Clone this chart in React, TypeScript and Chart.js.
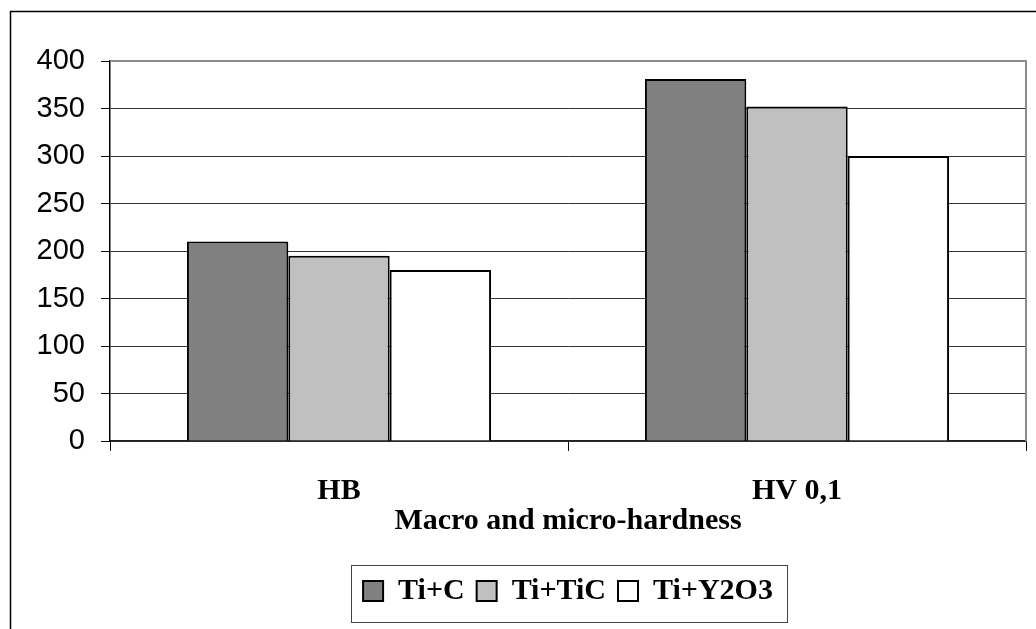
import React, { useEffect, useRef } from "react";
import { Chart, registerables } from "chart.js";

Chart.register(...registerables);

// Hardness values per test (HB macro-hardness, HV 0,1 micro-hardness)
const categories = ["HB", "HV 0,1"];
const seriesNames = ["Ti+C", "Ti+TiC", "Ti+Y2O3"];
const tiC = [210, 381];
const tiTiC = [195, 352];
const tiY2O3 = [180, 300];
const seriesColors = ["#808080", "#c0c0c0", "#ffffff"];
const yMin = 0;
const yMax = 400;
const yStep = 50;
const xTitle = "Macro and micro-hardness";

const SERIF = "'Liberation Serif', 'Times New Roman', serif";
const SANS = "'Liberation Sans', Arial, sans-serif";

// Outer frame of the chart, the grey plot-area edge and the box around the legend
const framePlugin = {
  id: "frames",
  afterDraw(chart: any) {
    const { ctx, chartArea } = chart;
    ctx.save();
    ctx.strokeStyle = "#000";
    ctx.lineWidth = 1.5;
    ctx.strokeRect(10.5, 11.5, chart.width + 40, chart.height + 40);

    ctx.strokeStyle = "#8c8c8c";
    ctx.lineWidth = 2;
    ctx.beginPath();
    ctx.moveTo(chartArea.left, chartArea.top);
    ctx.lineTo(chartArea.right, chartArea.top);
    ctx.lineTo(chartArea.right, chartArea.bottom);
    ctx.stroke();

    const boxes = chart.legend && chart.legend.legendHitBoxes;
    if (boxes && boxes.length) {
      const left = Math.min(...boxes.map((b: any) => b.left));
      const right = Math.max(...boxes.map((b: any) => b.left + b.width));
      const top = Math.min(...boxes.map((b: any) => b.top));
      const bottom = Math.max(...boxes.map((b: any) => b.top + b.height));
      const cy = (top + bottom) / 2;
      ctx.strokeStyle = "#444";
      ctx.lineWidth = 1;
      ctx.strokeRect(Math.round(left - 12) + 0.5, Math.round(cy - 26) + 0.5, Math.round(right - left + 26), 57);
    }
    ctx.restore();
  },
};

export default function App() {
  const canvasRef = useRef<HTMLCanvasElement | null>(null);

  useEffect(() => {
    const canvas = canvasRef.current;
    if (!canvas) return;
    const seriesValues = [tiC, tiTiC, tiY2O3];
    const chart = new Chart(canvas, {
      type: "bar",
      data: {
        labels: categories,
        datasets: seriesNames.map((name, i) => ({
          label: name,
          data: seriesValues[i],
          backgroundColor: seriesColors[i],
          borderColor: "#000",
          borderWidth: 2,
          borderSkipped: "bottom",
          categoryPercentage: 0.664,
          barPercentage: 1,
        })),
      },
      options: {
        responsive: false,
        animation: false,
        devicePixelRatio: 1,
        layout: { padding: { left: 10, right: 10, top: 61, bottom: 13 } },
        plugins: {
          title: { display: false },
          tooltip: { enabled: false },
          legend: {
            display: true,
            position: "bottom",
            fullSize: false,
            labels: {
              color: "#000",
              font: { family: SERIF, size: 30, weight: "bold" },
              boxWidth: 20,
              boxHeight: 20,
              padding: 12,
            },
          },
        },
        scales: {
          x: {
            offset: true,
            grid: {
              display: true,
              offset: true,
              drawOnChartArea: false,
              drawTicks: true,
              tickLength: 10,
              tickColor: "#000",
            },
            border: { display: true, color: "#222", width: 1.5 },
            ticks: {
              color: "#000",
              font: { family: SERIF, size: 30, weight: "bold" },
              padding: 22,
              maxRotation: 0,
            },
            title: {
              display: true,
              text: xTitle,
              color: "#000",
              font: { family: SERIF, size: 30, weight: "bold" },
              padding: { top: -28, bottom: 25 },
            },
          },
          y: {
            min: yMin,
            max: yMax,
            afterFit(scale: any) {
              scale.width = 100;
            },
            grid: {
              color: "#333",
              lineWidth: 1,
              drawTicks: true,
              tickLength: 9,
              tickColor: "#000",
            },
            border: { display: true, color: "#000", width: 1.5 },
            ticks: {
              stepSize: yStep,
              color: "#000",
              font: { family: SANS, size: 29 },
              padding: 16,
            },
          },
        },
      },
      plugins: [framePlugin],
    });
    return () => chart.destroy();
  }, []);

  return (
    <div style={{ position: "absolute", left: 0, top: 0, width: 1036, height: 629, background: "#fff" }}>
      <canvas ref={canvasRef} width={1036} height={629} style={{ display: "block", width: 1036, height: 629 }} />
    </div>
  );
}
